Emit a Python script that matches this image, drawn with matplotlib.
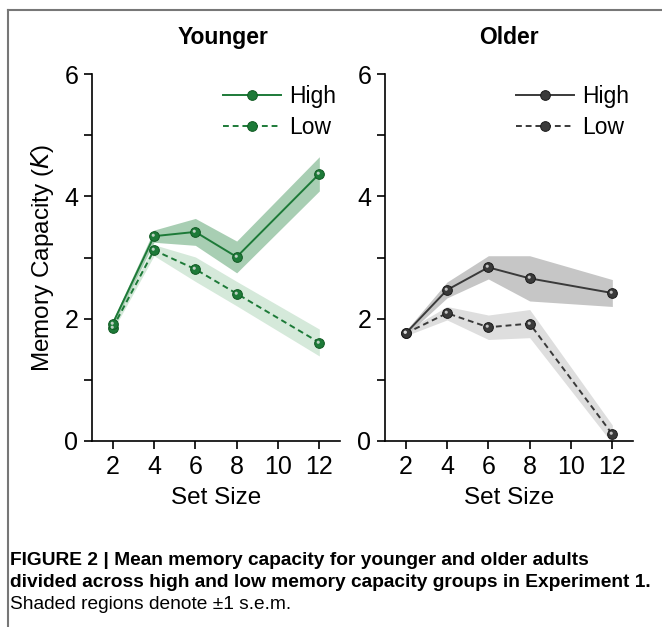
import matplotlib
matplotlib.use("Agg")
import matplotlib.pyplot as plt
from matplotlib.lines import Line2D
from matplotlib.markers import MarkerStyle
from matplotlib.transforms import Affine2D
import numpy as np

plt.rcParams['font.family'] = ['Liberation Sans', 'DejaVu Sans']

set_sizes = [2, 4, 6, 8, 12]

# Younger adults, K per set size, with s.e.m.
young_high = [1.92, 3.35, 3.42, 3.01, 4.37]
young_high_sem = [0.05, 0.10, 0.22, 0.26, 0.28]
young_low = [1.85, 3.12, 2.81, 2.41, 1.61]
young_low_sem = [0.05, 0.09, 0.20, 0.20, 0.22]

# Older adults
old_high = [1.76, 2.47, 2.84, 2.66, 2.42]
old_high_sem = [0.04, 0.13, 0.19, 0.37, 0.22]
old_low = [1.76, 2.09, 1.86, 1.92, 0.11]
old_low_sem = [0.04, 0.11, 0.20, 0.23, 0.15]

panels = [
    ("Younger", young_high, young_high_sem, young_low, young_low_sem,
     "#1d7a38", "#0f5a22", "#a8ceb3", "#d5e9da"),
    ("Older", old_high, old_high_sem, old_low, old_low_sem,
     "#3a3a3a", "#1a1a1a", "#c6c6c6", "#dedede"),
]

# shiny spot in the upper left of each ball marker
shine = MarkerStyle('o', transform=Affine2D().scale(0.32).translate(-0.13, 0.13))

fig = plt.figure(figsize=(6.62, 6.27), dpi=100)
axes = [fig.add_axes([0.139, 0.2967, 0.3746, 0.585]),
        fig.add_axes([0.5816, 0.2967, 0.3746, 0.585])]

x = np.array(set_sizes)
for i, (ax, (title, hi, hi_sem, lo, lo_sem, col, edge, band_hi, band_lo)) in enumerate(zip(axes, panels)):
    hi = np.array(hi); lo = np.array(lo)
    hi_sem = np.array(hi_sem); lo_sem = np.array(lo_sem)

    ax.fill_between(x, lo - lo_sem, lo + lo_sem, color=band_lo, lw=0, zorder=1)
    ax.fill_between(x, hi - hi_sem, hi + hi_sem, color=band_hi, lw=0, zorder=1)

    mk = dict(marker='o', markersize=7, markerfacecolor=col,
              markeredgecolor=edge, markeredgewidth=0.7)
    ax.plot(x, lo, ls=(0, (3, 2)), color=col, lw=1.4, zorder=3, label="Low", **mk)
    ax.plot(x, hi, ls='-', color=col, lw=1.4, zorder=4, label="High", **mk)
    ax.plot(x, lo, ls='none', marker=shine, markersize=7, mew=0, color='#e6e6e6', alpha=0.8, zorder=5)
    ax.plot(x, hi, ls='none', marker=shine, markersize=7, mew=0, color='#e6e6e6', alpha=0.8, zorder=5)

    ax.set_xlim(1, 13)
    ax.set_ylim(0, 6)
    ax.set_xticks([2, 4, 6, 8, 10, 12])
    ax.set_yticks([0, 2, 4, 6])
    ax.set_yticks([1, 3, 5], minor=True)
    for s in ['top', 'right']:
        ax.spines[s].set_visible(False)
    for s in ['left', 'bottom']:
        ax.spines[s].set_linewidth(1.2)
    ax.tick_params(which='both', direction='out', length=6, width=1.2, labelsize=18, pad=4)
    ax.set_xlabel("Set Size", fontsize=17.5, labelpad=6)
    ax.set_title(title, fontsize=16.5, fontweight='bold', pad=22,
                 x=0.53 if i == 0 else 0.5)

    handles, labels = ax.get_legend_handles_labels()
    ax.legend(handles[::-1], labels[::-1], loc='upper right', frameon=False,
              fontsize=16.5, handlelength=2.5, handletextpad=0.35,
              labelspacing=0.35, borderaxespad=0.0, bbox_to_anchor=(1.02, 0.995))

axes[0].set_ylabel("Memory Capacity ($\\mathit{K}$)", fontsize=17.5, labelpad=6)

# frame lines along the top and left edges of the figure
fig.add_artist(Line2D([0.012, 1.0], [0.984, 0.984], transform=fig.transFigure,
                      color='#777777', lw=1.5))
fig.add_artist(Line2D([0.012, 0.012], [0.0, 0.984], transform=fig.transFigure,
                      color='#777777', lw=1.5))

cap_font = ['Liberation Sans Narrow', 'Liberation Sans', 'DejaVu Sans']
fig.text(0.015, 0.099, "FIGURE 2 | Mean memory capacity for younger and older adults",
         fontsize=13.8, fontweight='bold', family=cap_font, va='baseline')
fig.text(0.015, 0.064, "divided across high and low memory capacity groups in Experiment 1.",
         fontsize=13.8, fontweight='bold', family=cap_font, va='baseline')
fig.text(0.015, 0.028, "Shaded regions denote \u00b11 s.e.m.",
         fontsize=13.8, family=cap_font, va='baseline')

fig.savefig("out.png", dpi=100, facecolor='white')
